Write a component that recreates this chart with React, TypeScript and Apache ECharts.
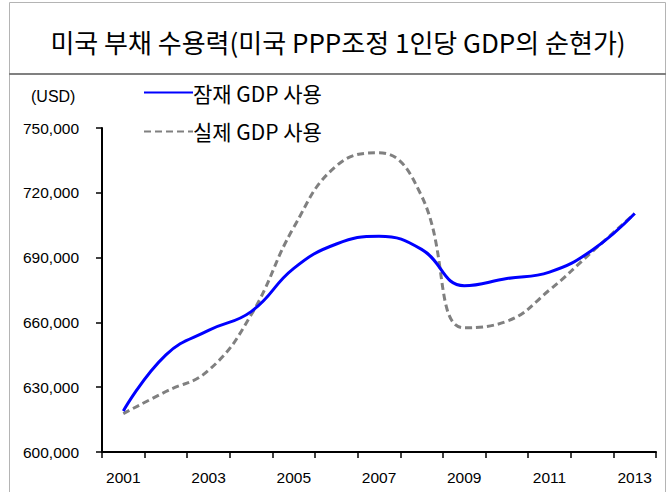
import React, { useEffect, useRef } from "react";
import * as echarts from "echarts";

const years = ["2001","2002","2003","2004","2005","2006","2007","2008","2009","2010","2011","2012","2013"];
const potentialGdp = [619000, 645000, 656300, 665000, 685000, 696300, 699900, 693800, 677000, 680300, 683300, 693400, 710400];
const actualGdp = [617800, 628000, 637800, 663500, 704000, 732500, 738500, 718500, 657500, 660500, 675000, 692700, 710400];
const seriesNames = ["잠재 GDP 사용", "실제 GDP 사용"];
const titleText = "미국 부채 수용력(미국 PPP조정 1인당 GDP의 순현가)";
const unitText = "(USD)";

const LAT = "'Liberation Sans', Arial, sans-serif";
const KR = "'Noto Sans CJK KR', 'Noto Sans', sans-serif";

export default function App() {
  const ref = useRef<HTMLDivElement>(null);
  useEffect(() => {
    if (!ref.current) return;
    const chart = echarts.init(ref.current, null, { renderer: "svg" });
    chart.setOption({
      animation: false,
      backgroundColor: "#ffffff",
      grid: { left: 102, right: 15, top: 128, bottom: 40 },
      legend: {
        orient: "vertical",
        left: 143,
        top: 82,
        padding: 0,
        itemWidth: 49,
        itemHeight: 14,
        itemGap: 18,
        itemStyle: { color: "transparent", borderWidth: 0, opacity: 0 },
        textStyle: { fontFamily: KR, fontSize: 21, color: "#000", padding: [0, 0, 0, -5] },
        data: seriesNames,
      },
      xAxis: {
        type: "category",
        data: years,
        boundaryGap: true,
        axisLine: { lineStyle: { color: "#000", width: 2 } },
        axisTick: { show: true, interval: 0, length: 6, lineStyle: { color: "#000", width: 1.5 } },
        axisLabel: { interval: 1, fontFamily: LAT, fontSize: 15.5, color: "#000", margin: 17 },
        splitLine: { show: false },
      },
      yAxis: {
        type: "value",
        min: 600000,
        max: 750000,
        interval: 30000,
        axisLine: { show: true, lineStyle: { color: "#000", width: 2 } },
        axisTick: { show: true, length: 6, lineStyle: { color: "#000", width: 1.5 } },
        axisLabel: {
          fontFamily: LAT,
          fontSize: 15.5,
          color: "#000",
          margin: 23,
          formatter: (v: number) => v.toLocaleString("en-US"),
        },
        splitLine: { show: false },
      },
      series: [
        {
          name: seriesNames[0],
          type: "line",
          data: potentialGdp,
          smooth: 0.45,
          symbol: "none",
          z: 3,
          lineStyle: { color: "#0000ff", width: 3 },
          itemStyle: { color: "#0000ff" },
        },
        {
          name: seriesNames[1],
          type: "line",
          data: actualGdp,
          smooth: 0.45,
          symbol: "none",
          z: 2,
          lineStyle: { color: "#808080", width: 3, type: [7, 4] },
          itemStyle: { color: "#808080" },
        },
      ],
      graphic: [
        {
          type: "rect",
          shape: { x: 9.5, y: 2.5, width: 656, height: 520 },
          style: { fill: "none", stroke: "#b4b4b4", lineWidth: 1 },
          silent: true,
        },
        {
          type: "line",
          shape: { x1: 9, y1: 74, x2: 666, y2: 74 },
          style: { stroke: "#808080", lineWidth: 2 },
          silent: true,
        },
        {
          type: "text",
          x: 338,
          y: 41,
          style: {
            text: titleText,
            fontFamily: KR,
            fontSize: 26,
            fill: "#000",
            align: "center",
            verticalAlign: "middle",
          },
        },
        {
          type: "text",
          x: 31,
          y: 96,
          style: {
            text: unitText,
            fontFamily: LAT,
            fontSize: 16,
            fill: "#000",
            align: "left",
            verticalAlign: "middle",
          },
        },
      ],
    });
    return () => chart.dispose();
  }, []);
  return (
    <div
      ref={ref}
      style={{ position: "fixed", left: 0, top: 0, width: 671, height: 492 }}
    />
  );
}
